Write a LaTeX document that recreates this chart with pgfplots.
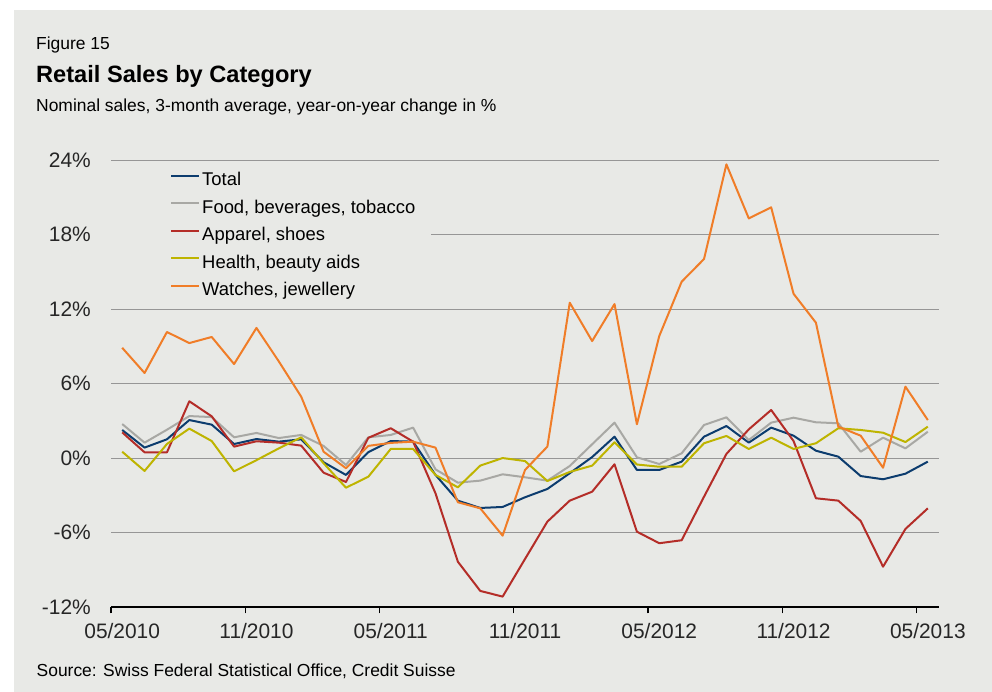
\documentclass[border=0pt]{standalone}
\usepackage{fontspec}
\setmainfont{Liberation Sans}
\usepackage{pgfplots}
\usepackage{pgfplotstable}
\pgfplotsset{compat=1.18}
\definecolor{bg}{RGB}{232,233,230}
\definecolor{ctotal}{RGB}{12,60,110}
\definecolor{cfood}{RGB}{168,168,164}
\definecolor{capp}{RGB}{180,45,40}
\definecolor{chealth}{RGB}{190,180,0}
\definecolor{cwatch}{RGB}{240,125,40}
\definecolor{cgrid}{RGB}{150,150,150}

\pgfplotstableread{
x total food apparel health watches
0.5 2.28 2.76 2.09 0.53 8.90
1.5 0.86 1.26 0.48 -1.02 6.87
2.5 1.53 2.30 0.48 1.15 10.17
3.5 3.08 3.40 4.59 2.39 9.28
4.5 2.71 3.32 3.38 1.39 9.77
5.5 1.15 1.69 0.94 -1.05 7.59
6.5 1.55 2.04 1.37 -0.15 10.50
7.5 1.34 1.63 1.26 0.80 7.80
8.5 1.53 1.88 1.02 1.69 4.96
9.5 -0.32 0.99 -1.16 -0.40 0.53
10.5 -1.34 -0.54 -1.91 -2.37 -0.80
11.5 0.50 1.69 1.65 -1.48 1.00
12.5 1.39 1.88 2.42 0.75 1.24
13.5 1.34 2.47 1.34 0.75 1.34
14.5 -1.34 -0.89 -2.82 -1.34 0.86
15.5 -3.41 -1.96 -8.33 -2.34 -3.54
16.5 -4.00 -1.80 -10.68 -0.59 -4.03
17.5 -3.92 -1.29 -11.14 0.02 -6.23
18.5 -3.14 -1.53 -8.11 -0.22 -0.94
19.5 -2.47 -1.80 -5.10 -1.83 0.94
20.5 -1.20 -0.62 -3.41 -1.10 12.53
21.5 0.10 1.13 -2.69 -0.59 9.44
22.5 1.74 2.87 -0.48 1.29 12.42
23.5 -0.94 0.08 -5.91 -0.50 2.74
24.5 -0.94 -0.46 -6.84 -0.68 9.85
25.5 -0.27 0.40 -6.60 -0.68 14.22
26.5 1.74 2.68 -3.09 1.21 16.05
27.5 2.60 3.30 0.35 1.80 23.67
28.5 1.26 1.47 2.33 0.75 19.32
29.5 2.47 2.87 3.89 1.66 20.21
30.5 1.82 3.27 1.39 0.75 13.25
31.5 0.61 2.90 -3.22 1.21 10.92
32.5 0.13 2.82 -3.41 2.42 2.55
33.5 -1.43 0.53 -5.05 2.28 1.82
34.5 -1.69 1.66 -8.73 2.06 -0.76
35.5 -1.24 0.80 -5.69 1.31 5.77
36.5 -0.27 2.14 -4.03 2.55 3.08
}\datatable

\begin{document}
\begin{tikzpicture}[x=1bp,y=1bp]
\useasboundingbox (0,0) rectangle (992,692);
\fill[white] (0,0) rectangle (992,692);
\fill[bg] (14,0) rectangle (992,682);
\node[anchor=base west, inner sep=0, font=\fontsize{17.5}{20}\selectfont] at (36,642) {Figure 15};
\node[anchor=base west, inner sep=0, font=\fontsize{23.7}{28}\selectfont\bfseries] at (36,609.7) {Retail Sales by Category};
\node[anchor=base west, inner sep=0, font=\fontsize{17.5}{20}\selectfont] at (36,580.3) {Nominal sales, 3-month average, year-on-year change in \%};
\node[anchor=base west, inner sep=0, font=\fontsize{17.5}{20}\selectfont] at (36.5,15) {Source: Swiss Federal Statistical Office, Credit Suisse};
\begin{axis}[
  at={(111bp,84.7bp)}, anchor=south west,
  scale only axis, width=828bp, height=447bp,
  xmin=0, xmax=37, ymin=-12, ymax=24,
  axis x line*=bottom, axis y line*=left,
  x axis line style={black, line width=2bp},
  y axis line style={draw=none},
  xtick={0,6,...,36},
  xticklabels={05/2010,11/2010,05/2011,11/2011,05/2012,11/2012,05/2013},
  xtick align=outside, ytick align=inside,
  major tick length=6bp,
  xtick style={black, line width=1.2bp},
  ytick style={draw=none},
  ytick={-12,-6,...,24},
  yticklabel={\pgfmathprintnumber{\tick}\%},
  /pgf/number format/assume math mode=true,
  ymajorgrids,
  grid style={cgrid, line width=1bp},
  tick label style={font=\fontsize{21}{24}\selectfont, text=black!85},
  xticklabel style={anchor=base, xshift=11.2bp, yshift=-25.7bp},
  yticklabel style={anchor=east, inner sep=0pt, xshift=-20bp},
  legend style={at={(0.0713,0.973)}, anchor=north west, draw=none, fill=none,
    inner sep=0pt, font=\fontsize{18.5}{22}\selectfont, row sep=10bp,
    nodes={inner xsep=2bp, inner ysep=0pt, text height=13bp, text depth=4.5bp}},
  legend cell align=left,
  legend image code/.code={\draw[#1] (0bp,5.5bp) -- (28bp,5.5bp);},
  every axis plot/.append style={line width=2bp, line join=round},
  clip=false,
]
\fill[bg] (axis cs:0,12.8) rectangle (axis cs:14.3,23.6);
\addplot[ctotal] table[x=x,y=total] {\datatable};
\addlegendentry{Total}
\addplot[cfood] table[x=x,y=food] {\datatable};
\addlegendentry{Food, beverages, tobacco}
\addplot[capp] table[x=x,y=apparel] {\datatable};
\addlegendentry{Apparel, shoes}
\addplot[chealth] table[x=x,y=health] {\datatable};
\addlegendentry{Health, beauty aids}
\addplot[cwatch] table[x=x,y=watches] {\datatable};
\addlegendentry{Watches, jewellery}
\end{axis}
\end{tikzpicture}
\end{document}
